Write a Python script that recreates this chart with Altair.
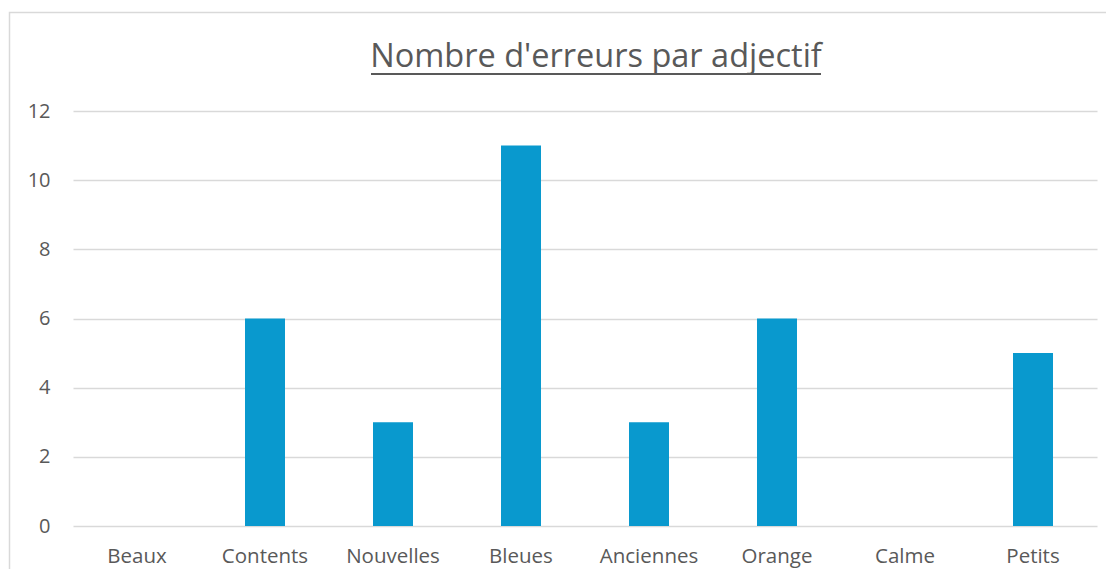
import altair as alt
import pandas as pd

categories = ["Beaux", "Contents", "Nouvelles", "Bleues", "Anciennes", "Orange", "Calme", "Petits"]
errors = [0, 6, 3, 11, 3, 6, 0, 5]
y_ticks = [0, 2, 4, 6, 8, 10, 12]
title_text = "Nombre d'erreurs par adjectif"

df = pd.DataFrame({"adjectif": categories, "erreurs": errors})

FONT = "Open Sans"
GREY = "#595959"

bars = alt.Chart(df).mark_bar(color="#0999CE").encode(
    x=alt.X("adjectif:N", sort=categories, title=None,
            scale=alt.Scale(paddingInner=0.6875, paddingOuter=0.34375),
            axis=alt.Axis(labelAngle=0, labelFontSize=20.5, labelColor=GREY, labelFont=FONT,
                          ticks=False, domain=False, labelPadding=20)),
    y=alt.Y("erreurs:Q", title=None,
            scale=alt.Scale(domain=[0, 12], nice=False),
            axis=alt.Axis(values=y_ticks, labelFontSize=20, labelColor=GREY, labelFont=FONT,
                          ticks=False, domain=False, labelPadding=23,
                          gridColor="#d9d9d9", gridWidth=1.5)),
)

title_df = pd.DataFrame({"t": [title_text]})
title = alt.Chart(title_df).mark_text(
    fontSize=32.5, font=FONT, color=GREY, align="center", baseline="alphabetic"
).encode(text="t:N", x=alt.value(523), y=alt.value(-44))

underline = alt.Chart(title_df).mark_rule(color=GREY, strokeWidth=2).encode(
    x=alt.value(298), x2=alt.value(748), y=alt.value(-37)
)

border = alt.Chart(title_df).mark_rect(fill=None, stroke="#d9d9d9", strokeWidth=1.5).encode(
    x=alt.value(-63.5), x2=alt.value(1200), y=alt.value(-98.5), y2=alt.value(600)
)

chart = alt.layer(border, bars, title, underline).properties(
    width=1024, height=415,
    background="white",
    autosize=alt.AutoSizeParams(type="none"),
    padding={"left": 65, "top": 103, "right": 9, "bottom": 43},
).configure_view(strokeWidth=0)

chart.save("out.html", embed_options={"renderer": "svg", "actions": False})
